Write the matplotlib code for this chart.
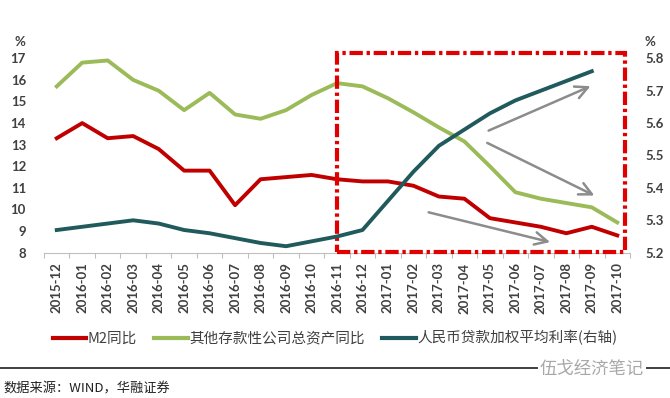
import matplotlib
matplotlib.use("Agg")
import matplotlib.pyplot as plt
from matplotlib.patches import Rectangle
from matplotlib.lines import Line2D
import numpy as np

plt.rcParams['font.family'] = ['Noto Sans CJK SC', 'DejaVu Sans']

categories = ["2015-12", "2016-01", "2016-02", "2016-03", "2016-04", "2016-05",
              "2016-06", "2016-07", "2016-08", "2016-09", "2016-10", "2016-11",
              "2016-12", "2017-01", "2017-02", "2017-03", "2017-04", "2017-05",
              "2017-06", "2017-07", "2017-08", "2017-09", "2017-10"]
m2_yoy = [13.3, 14.0, 13.3, 13.4, 12.8, 11.8, 11.8, 10.2, 11.4, 11.5, 11.6, 11.4,
          11.3, 11.3, 11.1, 10.6, 10.5, 9.6, 9.4, 9.2, 8.9, 9.2, 8.8]
other_assets_yoy = [15.7, 16.8, 16.9, 16.0, 15.5, 14.6, 15.4, 14.4, 14.2, 14.6, 15.3, 15.85,
                    15.7, 15.15, 14.5, 13.8, 13.15, 12.0, 10.8, 10.5, 10.3, 10.1, 9.4]
loan_rate = [5.27, 5.28, 5.29, 5.30, 5.29, 5.27, 5.26, 5.245, 5.23, 5.22, 5.235, 5.25,
             5.27, 5.36, 5.45, 5.53, 5.58, 5.63, 5.67, 5.70, 5.73, 5.76, np.nan]
left_ticks = [8, 9, 10, 11, 12, 13, 14, 15, 16, 17]
right_ticks = [5.2, 5.3, 5.4, 5.5, 5.6, 5.7, 5.8]
right_labels = ["5.2", "5.3", "5.4", "5.5", "5.6", "5.7", "5.8"]

labels = ["M2同比", "其他存款性公司总资产同比", "人民币贷款加权平均利率(右轴)"]
c_red = "#C00000"
c_green = "#9BBB59"
c_teal = "#215A5C"
tick_color = "#404040"

W, H = 670, 398
fig = plt.figure(figsize=(6.7, 3.98), dpi=100)
ax = fig.add_axes([44 / W, 1 - 252.7 / H, (630 - 44) / W, (252.7 - 58.3) / H])
ax2 = ax.twinx()

x = np.arange(len(categories))
l1, = ax.plot(x, m2_yoy, color=c_red, lw=2.8, solid_joinstyle='round')
l2, = ax.plot(x, other_assets_yoy, color=c_green, lw=2.8, solid_joinstyle='round')
l3, = ax2.plot(x, loan_rate, color=c_teal, lw=2.8, solid_joinstyle='round')

ax.set_xlim(-0.5, len(categories) - 0.5)
ax.set_ylim(8, 17)
ax2.set_ylim(5.2, 5.8)

tick_font = dict(family=['Lato', 'DejaVu Sans'], weight='bold', size=9.5)
ax.set_yticks(left_ticks)
ax.set_yticklabels([str(v) for v in left_ticks], color=tick_color, **tick_font)
ax.tick_params(axis='y', length=0, pad=13)
ax2.set_yticks(right_ticks)
ax2.set_yticklabels(right_labels, color=tick_color, **tick_font)
ax2.tick_params(axis='y', length=0, pad=11)

ax.set_xticks(x)
ax.set_xticklabels(categories, rotation=90, color=tick_color, **tick_font)
ax.tick_params(axis='x', length=0, pad=7)
ax.set_xticks(np.arange(-0.5, len(categories)), minor=True)
ax.tick_params(axis='x', which='minor', length=3.5, color="#BFBFBF", width=0.8)

for a in (ax, ax2):
    for s in ('top', 'left', 'right'):
        a.spines[s].set_visible(False)
ax2.spines['bottom'].set_visible(False)
ax.spines['bottom'].set_color("#BFBFBF")
ax.spines['bottom'].set_linewidth(0.8)

# % unit labels
fig.text(20 / W, 1 - 42 / H, "%", ha='center', va='center', color=tick_color, **tick_font)
fig.text(650 / W, 1 - 42 / H, "%", ha='center', va='center', color=tick_color, **tick_font)

# dash-dot highlight box
rect = Rectangle((11, 8.05), 22.3 - 11, 17.23 - 8.05, fill=False, edgecolor="#E00000",
                 lw=3, linestyle=(0, (3.2, 0.9, 0.8, 0.9)), clip_on=False, zorder=5)
ax.add_patch(rect)

# gray arrows
arrow_kw = dict(arrowstyle='->,head_length=0.9,head_width=0.45', color="#8C8C8C", lw=1.8)
for (x0, y0), (x1, y1) in [((16.85, 13.6), (21.05, 15.76)),
                           ((16.8, 13.14), (21.2, 10.59)),
                           ((14.49, 9.9), (19.47, 8.46))]:
    ax.annotate("", xy=(x1, y1), xytext=(x0, y0), arrowprops=arrow_kw, zorder=6,
                annotation_clip=False)

# legend
leg = fig.legend([l1, l2, l3], labels, loc='center', bbox_to_anchor=(0.5, 1 - 338 / H),
                 ncol=3, frameon=False, handlelength=2.3, handletextpad=0.1,
                 columnspacing=1.2, prop=dict(family=['Noto Sans CJK SC', 'DejaVu Sans'],
                                              size=10.5))
for t in leg.get_texts():
    t.set_color("#404040")
for h in leg.legend_handles:
    h.set_linewidth(3)

# source line and text
fig.add_artist(Line2D([0, 1], [1 - 367.7 / H, 1 - 367.7 / H], color="#404040", lw=1.4,
                      transform=fig.transFigure))
fig.text(3 / W, 1 - 389 / H, "数据来源：WIND，华融证券", ha='left', va='center',
         fontsize=9.5, color="#222222")
fig.text(592 / W, 1 - 369 / H, "伍戈经济笔记", ha='center', va='center', fontsize=12.5,
         color="#A8A8A8", bbox=dict(facecolor='white', edgecolor='none', pad=1))

fig.savefig("out.png", dpi=100)
